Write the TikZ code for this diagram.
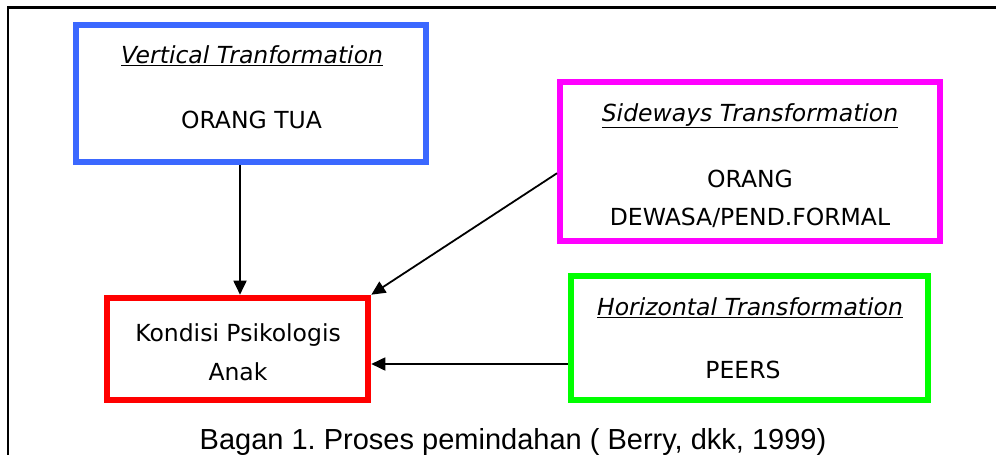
\documentclass[tikz,border=0pt]{standalone}
\usepackage{fontspec}
\setmainfont{DejaVu Sans}
\newfontfamily\capfont{Liberation Sans}
\usetikzlibrary{arrows.meta}
\definecolor{vblue}{RGB}{59,104,255}
\definecolor{smag}{RGB}{255,0,255}
\definecolor{kred}{RGB}{255,0,0}
\definecolor{hgreen}{RGB}{0,255,0}
\frenchspacing
\begin{document}
\begin{tikzpicture}[x=1pt,y=-1pt,
  box/.style={draw=#1, line width=6pt, inner sep=0pt, rectangle},
  lbl/.style={font=\fontsize{23.5}{28}\selectfont, anchor=base, inner sep=0pt},
  arr/.style={draw=black, line width=1.8pt, -{Triangle[length=14pt,width=13pt]}}]
\useasboundingbox (0,0) rectangle (996,455);
\fill[white] (0,0) rectangle (996,455);
\draw[line width=2.5pt] (8,480) -- (8,7.5) -- (1010,7.5);
% boxes
\node[box=vblue, minimum width=350.6pt, minimum height=137.6pt] (vt) at (251,93.5) {};
\node[box=smag, minimum width=380pt, minimum height=158.7pt] (sw) at (750,161.65) {};
\node[box=kred, minimum width=261pt, minimum height=102.6pt] (rd) at (237.8,349) {};
\node[box=hgreen, minimum width=357pt, minimum height=124.6pt] (ht) at (749.2,338) {};
% texts
\node[lbl] (vtt) at (252,63) {\underline{\textit{Vertical Tranformation}}};
\node[lbl] (vtb) at (251.5,128) {ORANG TUA};
\node[lbl] (swt) at (750,121) {\underline{\textit{Sideways Transformation}}};
\node[lbl] (swb1) at (750,187) {ORANG};
\node[lbl] (swb2) at (750,225) {DEWASA/PEND.FORMAL};
\node[lbl] (rdt1) at (238,341) {Kondisi Psikologis};
\node[lbl] (rdt2) at (238,380) {Anak};
\node[lbl] (htt) at (750,315) {\underline{\textit{Horizontal Transformation}}};
\node[lbl] (htb) at (743,378) {PEERS};
\node[anchor=base, inner sep=0pt, font=\capfont\fontsize{29}{34}\selectfont] (cap) at (513,449.3) {Bagan 1. Proses pemindahan ( Berry, dkk, 1999)};
% arrows
\draw[arr] ([xshift=-11pt]vt.south) -- ([xshift=-11pt]vt.south |- rd.north);
\draw[arr] ([yshift=-11.6pt]sw.west) -- (rd.north east);
\draw[arr] ([yshift=-26pt]ht.west) -- ([yshift=-26pt]ht.west -| rd.east);
\end{tikzpicture}
\end{document}
